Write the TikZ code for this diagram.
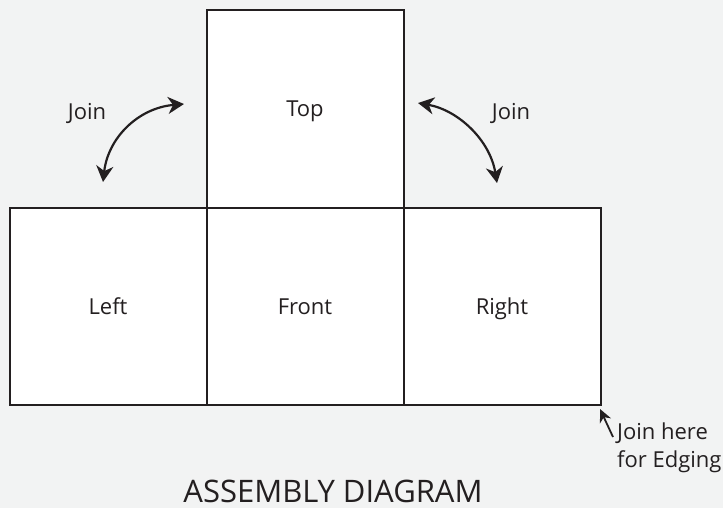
\documentclass[tikz,border=0pt]{standalone}
\usepackage{fontspec}
\setmainfont{Open Sans}
\usetikzlibrary{arrows.meta, positioning}
\definecolor{paper}{RGB}{242, 243, 243}
\definecolor{inkblack}{RGB}{35, 31, 32}

\begin{document}
\begin{tikzpicture}[
    x=1pt, y=-1pt,
    node distance=0pt,
    font=\fontsize{22}{28}\selectfont,
    panel/.style={
        draw=inkblack,
        line width=2pt,
        fill=white,
        outer sep=0pt,
        inner sep=0pt,
        minimum width=197pt,
        minimum height=197pt,
        text height=16pt,
        text depth=0pt,
        text=inkblack
    },
    caption/.style={text=inkblack, align=left, inner sep=0pt, anchor=base},
    arrow/.style={
        {Stealth[length=16pt, width=17pt, inset=5pt]}-{Stealth[length=16pt, width=17pt, inset=5pt]},
        line width=2.2pt, color=inkblack
    },
    pointer/.style={-{Stealth[length=13pt, width=12pt, inset=4pt]}, line width=1.8pt, color=inkblack}
]

    % Background
    \fill[paper] (0,0) rectangle (723,508);
    \useasboundingbox (0,0) rectangle (723,508);

    % Panels
    \node[panel] (front) at (305,306) {Front};
    \node[panel, left=of front] (left) {Left};
    \node[panel, right=of front] (right) {Right};
    \node[panel, above=of front] (top) {Top};

    % Labels
    \node[caption] (joinL) at (87,120) {Join};
    \node[caption] (joinR) at (511,120) {Join};
    \node[caption, anchor=north west] (edging) at (617,423) {Join here\\for Edging};
    \node[caption, text depth=0pt, font=\fontsize{31}{36}\selectfont] (title) at (333,502) {ASSEMBLY DIAGRAM};

    % Arrow ends
    \coordinate (joinLa) at (103,182);
    \coordinate (joinLb) at (184,104);
    \coordinate (joinRa) at (418,103);
    \coordinate (joinRb) at (497,183);
    \coordinate (edgeTip) at (600,409);
    \coordinate (edgeTail) at (613,437);

    % Arrows
    \draw[arrow] (joinLa) .. controls (108,138) and (138,108) .. (joinLb);
    \draw[arrow] (joinRa) .. controls (458,110) and (490,140) .. (joinRb);
    \draw[pointer] (edgeTail) -- (edgeTip);

\end{tikzpicture}
\end{document}
